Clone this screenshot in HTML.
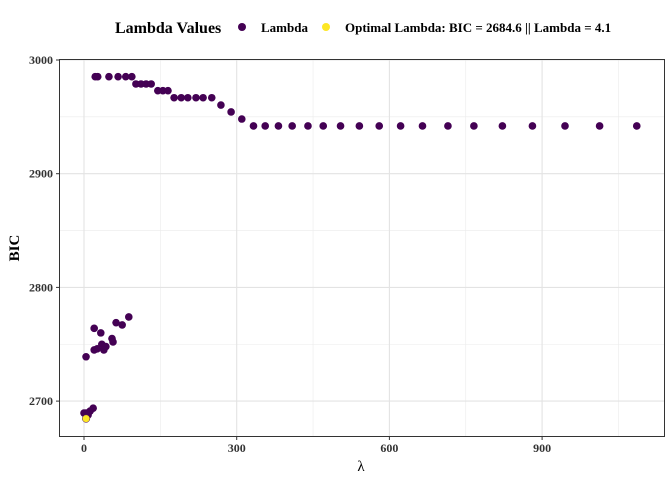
<!DOCTYPE html>
<html><head><meta charset="utf-8"><style>
body{margin:0;background:#fff;font-family:"Liberation Serif",serif;}
text{font-family:"Liberation Serif",serif;}
</style></head><body>
<svg id="chart" width="672" height="480">
<rect width="672" height="480" fill="#fff"/>
<g id="grid"></g>
<g id="pts"></g>
<rect x="59.5" y="59.5" width="605" height="377" fill="none" stroke="#333" stroke-width="1"/>
<g id="axes"></g>
<text x="361" y="471" text-anchor="middle" font-size="15">λ</text>
<text transform="translate(19,248) rotate(-90)" text-anchor="middle" font-size="15" font-weight="bold">BIC</text>
<g>
<text x="115" y="33" font-size="16" font-weight="bold">Lambda Values</text>
<circle cx="242" cy="27" r="4" fill="#440154"/>
<text x="261" y="32" font-size="13" font-weight="bold">Lambda</text>
<circle cx="326" cy="27" r="4" fill="#FDE725"/>
<text x="345" y="32" font-size="13" font-weight="bold">Optimal Lambda: BIC = 2684.6 || Lambda = 4.1</text>
</g>
</svg>
<script>
const lambdas=[22,27,49,67,82,94,102,112,122,132,145,155,165,177,191,204,220,234,251,269,289,310,333,356,382,409,440,470,504,541,580,622,665,715,766,822,881,945,1013,1086,88,63,75,20,33,55,57,35,43,20,26,39,4,18,12,4,0,8];
const bics=[2985.3,2985.3,2985.3,2985.3,2985.3,2985.3,2978.9,2978.9,2978.9,2978.9,2973,2973,2973,2966.8,2966.8,2966.8,2966.8,2966.8,2966.8,2960.4,2954.3,2948.1,2942,2942,2942,2942,2942,2942,2942,2942,2942,2942,2942,2942,2942,2942,2942,2942,2942,2942,2774,2769,2767,2764,2760,2755,2752,2750,2748,2745,2746,2745,2739,2693.8,2691.2,2689.5,2689.5,2687.8];
const optLambda=[4.1];
const optBic=[2684.6];
const xTicks=[0,300,600,900];
const yTicks=[2700,2800,2900,3000];
const X=v=>84+v*0.509;
const Y=v=>60+(3000-v)*1.137;
const ns="http://www.w3.org/2000/svg";
const grid=document.getElementById('grid'),pts=document.getElementById('pts'),axes=document.getElementById('axes');
function mk(tag,attrs,parent){const e=document.createElementNS(ns,tag);for(const k in attrs)e.setAttribute(k,attrs[k]);parent.appendChild(e);return e;}
[150,450,750,1050].forEach(v=>{const l=mk('line',{x1:X(v),x2:X(v),y1:60,y2:436,stroke:'#ebebeb','stroke-width':0.6},grid);

});
[2650,2750,2850,2950].forEach(v=>{if(Y(v)<436){const l=mk('line',{x1:60,x2:664,y1:Y(v),y2:Y(v),stroke:'#ebebeb','stroke-width':0.6},grid);

}});
xTicks.forEach(v=>{const l=mk('line',{x1:X(v),x2:X(v),y1:60,y2:436,stroke:'#e3e3e3','stroke-width':1.1},grid);


const t=mk('line',{x1:X(v),x2:X(v),y1:436,y2:440,stroke:'#333'},axes);


const tx=mk('text',{x:X(v),y:452,'text-anchor':'middle','font-size':12,'font-weight':'bold',fill:'#333'},axes);tx.textContent=v;

});
yTicks.forEach(v=>{const l=mk('line',{x1:60,x2:664,y1:Y(v),y2:Y(v),stroke:'#e3e3e3','stroke-width':1.1},grid);


const t=mk('line',{x1:56,x2:60,y1:Y(v),y2:Y(v),stroke:'#333'},axes);


const tx=mk('text',{x:53,y:Y(v)+4,'text-anchor':'end','font-size':12,'font-weight':'bold',fill:'#333'},axes);tx.textContent=v;

});
lambdas.forEach((v,i)=>{const c=mk('circle',{cx:X(v),cy:Y(bics[i]),r:3.8,fill:'#440154'},pts);

});
optLambda.forEach((v,i)=>{const c=mk('circle',{cx:X(v),cy:Y(optBic[i]),r:3.8,fill:'#FDE725',stroke:'#440154','stroke-width':0.5},pts);

});
</script>
</body></html>
